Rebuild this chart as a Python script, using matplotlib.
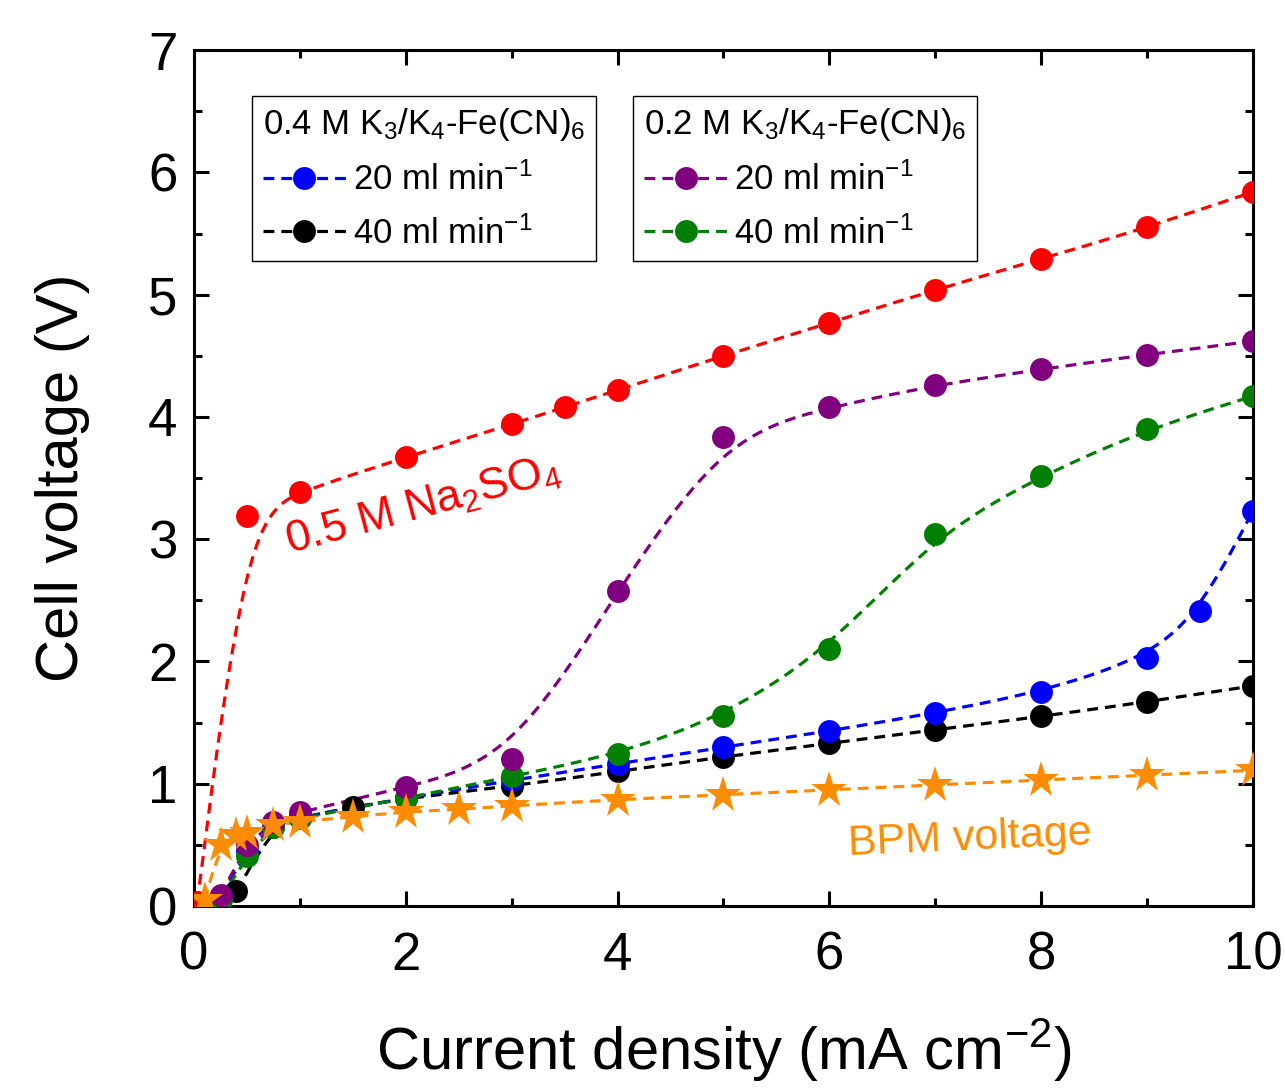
import numpy as np
import matplotlib
matplotlib.use("Agg")
import matplotlib.pyplot as plt
from matplotlib.ticker import MultipleLocator

plt.rcParams['font.family'] = ['Liberation Sans', 'DejaVu Sans']
plt.rcParams['mathtext.fontset'] = 'custom'
plt.rcParams['mathtext.rm'] = 'Liberation Sans'
plt.rcParams['mathtext.it'] = 'Liberation Sans:italic'

# --- data ---
x_na2so4 = [0.03, 0.5, 1, 2, 3, 3.5, 4, 5, 6, 7, 8, 9, 10]
v_na2so4 = [0.03, 3.19, 3.39, 3.67, 3.94, 4.08, 4.22, 4.50, 4.77, 5.04, 5.29, 5.55, 5.84]

x_04_20 = [0.25, 0.5, 0.75, 1, 2, 3, 4, 5, 6, 7, 8, 9, 9.5, 10]
v_04_20 = [0.08, 0.45, 0.66, 0.73, 0.88, 1.03, 1.16, 1.30, 1.43, 1.58, 1.75, 2.03, 2.41, 3.23]

x_04_40 = [0.4, 0.75, 1, 1.5, 2, 3, 4, 5, 6, 7, 8, 9, 10]
v_04_40 = [0.12, 0.65, 0.72, 0.81, 0.88, 0.98, 1.10, 1.22, 1.33, 1.44, 1.55, 1.67, 1.80]

x_02_20 = [0.25, 0.5, 0.75, 1, 2, 3, 4, 5, 6, 7, 8, 9, 10]
v_02_20 = [0.09, 0.50, 0.69, 0.77, 0.97, 1.20, 2.58, 3.84, 4.08, 4.26, 4.39, 4.51, 4.62]

x_02_40 = [0.25, 0.5, 0.75, 1, 2, 3, 4, 5, 6, 7, 8, 9, 10]
v_02_40 = [0.05, 0.41, 0.65, 0.72, 0.88, 1.06, 1.24, 1.55, 2.10, 3.04, 3.52, 3.90, 4.17]

x_bpm = [0.1, 0.25, 0.4, 0.5, 0.75, 1, 1.5, 2, 2.5, 3, 4, 5, 6, 7, 8, 9, 10]
v_bpm = [0.05, 0.50, 0.58, 0.60, 0.66, 0.69, 0.73, 0.77, 0.79, 0.82, 0.87, 0.91, 0.95, 0.99, 1.03, 1.07, 1.11]


def bspline(x, y, n=40):
    # uniform cubic B-spline using the data points as control points (clamped ends)
    P = np.column_stack([x, y]).astype(float)
    P = np.vstack([P[0], P[0], P, P[-1], P[-1]])
    t = np.linspace(0, 1, n, endpoint=False)[:, None]
    b0 = (1 - t) ** 3 / 6
    b1 = (3 * t ** 3 - 6 * t ** 2 + 4) / 6
    b2 = (-3 * t ** 3 + 3 * t ** 2 + 3 * t + 1) / 6
    b3 = t ** 3 / 6
    segs = []
    for i in range(len(P) - 3):
        segs.append(b0 * P[i] + b1 * P[i + 1] + b2 * P[i + 2] + b3 * P[i + 3])
    segs.append(P[-1][None, :])
    c = np.vstack(segs)
    return c[:, 0], c[:, 1]


fig = plt.figure(figsize=(12.85, 10.91), dpi=100)
ax = fig.add_axes([0.151, 0.1696, 0.824, 0.7844])

dash = (3.4, 2.2)
lw = 2.3
ms = 16.5

series = [
    (x_04_40, v_04_40, 'black', 'o'),
    (x_04_20, v_04_20, 'blue', 'o'),
    (x_02_40, v_02_40, 'green', 'o'),
    (x_02_20, v_02_20, 'purple', 'o'),
    (x_na2so4, v_na2so4, 'red', 'o'),
    (x_bpm, v_bpm, '#FF8C00', '*'),
]
handles = {}
for xs, vs, col, mk in series:
    cx, cy = bspline(xs, vs)
    ax.plot(cx, cy, color=col, lw=lw, dashes=dash, zorder=2)
    size = 28 if mk == '*' else ms
    ax.plot(xs, vs, ls='none', marker=mk, color=col, ms=size, mew=0, zorder=3)
    handles[col] = ax.plot([], [], color=col, lw=lw, dashes=dash, marker=mk,
                           ms=ms, mew=0)[0]

ax.set_xlim(0, 10)
ax.set_ylim(0, 7)
ax.xaxis.set_major_locator(MultipleLocator(2))
ax.xaxis.set_minor_locator(MultipleLocator(1))
ax.yaxis.set_major_locator(MultipleLocator(1))
ax.yaxis.set_minor_locator(MultipleLocator(0.5))
ax.tick_params(which='both', direction='in', top=True, right=True, width=2.2)
ax.tick_params(which='major', length=11, labelsize=38)
ax.tick_params(axis='x', which='major', pad=18)
ax.tick_params(axis='y', which='major', pad=12)
ax.tick_params(which='minor', length=6)
for s in ax.spines.values():
    s.set_linewidth(2.2)

ax.set_xlabel('Current density (mA cm$^{-2}$)', fontsize=43, labelpad=26)
ax.set_ylabel('Cell voltage (V)', fontsize=43, labelpad=42)

leg_kw = dict(fontsize=25, title_fontsize=25, frameon=True, fancybox=False,
              edgecolor='black', framealpha=1, handlelength=2.4,
              handletextpad=0.2, borderpad=0.3, labelspacing=0.55,
              borderaxespad=0, alignment='left')
leg1 = ax.legend([handles['blue'], handles['black']],
                 ['20 ml min$^{-1}$', '40 ml min$^{-1}$'],
                 title='0.4 M K$_3$/K$_4$-Fe(CN)$_6$',
                 loc='upper left', bbox_to_anchor=(0.055, 0.9465), **leg_kw)
leg1.get_frame().set_linewidth(1.0)
ax.add_artist(leg1)
leg2 = ax.legend([handles['purple'], handles['green']],
                 ['20 ml min$^{-1}$', '40 ml min$^{-1}$'],
                 title='0.2 M K$_3$/K$_4$-Fe(CN)$_6$',
                 loc='upper left', bbox_to_anchor=(0.415, 0.9465), **leg_kw)
leg2.get_frame().set_linewidth(1.0)

ax.text(0.9, 2.88, '0.5 M Na$_2$SO$_4$', color='red', fontsize=32,
        rotation=15, rotation_mode='anchor', ha='left', va='baseline')
ax.text(6.18, 0.42, 'BPM voltage', color='#FF8C00', fontsize=31,
        rotation=2.5, rotation_mode='anchor', ha='left', va='baseline')

fig.savefig('out.png', dpi=100)
